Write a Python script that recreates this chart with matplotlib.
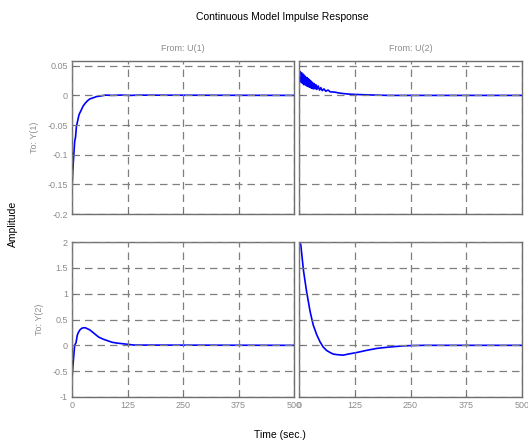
import numpy as np
import matplotlib
matplotlib.use("Agg")
import matplotlib.pyplot as plt

plt.rcParams["font.family"] = ["Liberation Sans", "DejaVu Sans"]

# --- data (time in sec.) ---
t11 = [0, 2, 4, 6, 8, 10, 13, 16, 20, 25, 30, 35, 40, 48, 55, 65, 75, 90, 110, 130, 150, 500]
y11 = [-0.158, -0.125, -0.10, -0.078, -0.07, -0.052, -0.042, -0.032, -0.026, -0.018, -0.013,
       -0.009, -0.006, -0.004, -0.002, -0.001, 0.0005, 0.0, 0.0005, 0.0, 0.0004, 0.0]

t12 = [0, 2, 3, 5, 6, 8, 9, 11, 12, 14, 15, 17, 18, 20, 21, 23, 24, 26, 27, 29, 30, 32, 34,
       36, 38, 40, 43, 46, 49, 52, 56, 60, 65, 70, 80, 90, 100, 115, 130, 150, 170, 200, 500]
y12 = [0.045, 0.025, 0.040, 0.022, 0.038, 0.020, 0.036, 0.018, 0.034, 0.018, 0.031, 0.016,
       0.030, 0.015, 0.028, 0.014, 0.026, 0.013, 0.024, 0.012, 0.022, 0.011, 0.020, 0.011,
       0.018, 0.010, 0.016, 0.009, 0.013, 0.008, 0.011, 0.007, 0.009, 0.006, 0.0055, 0.004,
       0.003, 0.002, 0.0015, 0.001, 0.0005, 0.0, 0.0]

t21 = [0, 3, 6, 9, 12, 15, 18, 22, 26, 30, 35, 40, 50, 60, 70, 80, 90, 100, 110, 125, 140, 500]
y21 = [-0.65, -0.3, 0.0, 0.05, 0.2, 0.26, 0.3, 0.33, 0.34, 0.34, 0.32, 0.3, 0.23, 0.16, 0.12,
       0.09, 0.06, 0.045, 0.035, 0.02, 0.005, 0.0]

t22 = [0, 4, 10, 17, 25, 32, 40, 47, 54, 62, 70, 77, 85, 99, 110, 129, 150, 174, 200, 234, 260, 280, 500]
y22 = [2.0, 1.95, 1.45, 1.04, 0.65, 0.39, 0.2, 0.07, -0.03, -0.1, -0.14, -0.17, -0.18, -0.19,
       -0.17, -0.14, -0.1, -0.06, -0.035, -0.01, -0.003, 0.0, 0.0]

xticks = [0, 125, 250, 375, 500]
yticks_top = [-0.2, -0.15, -0.1, -0.05, 0, 0.05]
ytick_labels_top = ["-0.2", "-0.15", "-0.1", "-0.05", "0", "0.05"]
yticks_bot = [-1, -0.5, 0, 0.5, 1, 1.5, 2]
ytick_labels_bot = ["-1", "-0.5", "0", "0.5", "1", "1.5", "2"]

W, H = 528, 441
fig = plt.figure(figsize=(W / 100, H / 100), dpi=100)

def px_axes(x0, y0, x1, y1):
    return fig.add_axes([x0 / W, 1 - y1 / H, (x1 - x0) / W, (y1 - y0) / H])

ax11 = px_axes(72, 61, 294, 214)
ax12 = px_axes(299, 61, 522, 214)
ax21 = px_axes(72, 242, 294, 397)
ax22 = px_axes(299, 242, 522, 397)

gray = "#8c8c8c"
series = [(ax11, t11, y11), (ax12, t12, y12), (ax21, t21, y21), (ax22, t22, y22)]
for ax, t, y in series:
    ax.plot(t, y, color="#0000ff", lw=1.2, zorder=1)
    ax.set_xlim(0, 500)
    ax.set_xticks(xticks)
    ax.grid(True, color="#7f7f7f", ls=(0, (6, 4)), lw=0.9)
    ax.set_axisbelow(False)
    for s in ax.spines.values():
        s.set_color("#6e6e6e")
        s.set_linewidth(1.0)
    ax.tick_params(direction="in", length=3, width=0.6, colors="#6e6e6e",
                   labelcolor=gray, labelsize=6.5, pad=3)

for ax in (ax11, ax12):
    ax.set_ylim(-0.2, 0.058)
    ax.set_yticks(yticks_top)
    ax.set_xticklabels([])
for ax in (ax21, ax22):
    ax.set_ylim(-1, 2)
    ax.set_yticks(yticks_bot)
    ax.set_xticklabels([str(v) for v in xticks])
ax11.set_yticklabels(ytick_labels_top)
ax21.set_yticklabels(ytick_labels_bot)
ax12.set_yticklabels([])
ax22.set_yticklabels([])

ax11.set_title("From: U(1)", fontsize=6.5, color=gray, pad=7)
ax12.set_title("From: U(2)", fontsize=6.5, color=gray, pad=7)
ax11.set_ylabel("To: Y(1)", fontsize=6.5, color=gray, labelpad=6)
ax21.set_ylabel("To: Y(2)", fontsize=6.5, color=gray, labelpad=6)

fig.text(282 / W, 1 - 17 / H, "Continuous Model Impulse Response", fontsize=7.5,
         ha="center", va="center")
fig.text(280 / W, 1 - 435 / H, "Time (sec.)", fontsize=7.5, ha="center", va="center")
fig.text(13 / W, 1 - 224 / H, "Amplitude", fontsize=7.5, ha="center", va="center",
         rotation=90)

fig.savefig("out.png", dpi=100)
